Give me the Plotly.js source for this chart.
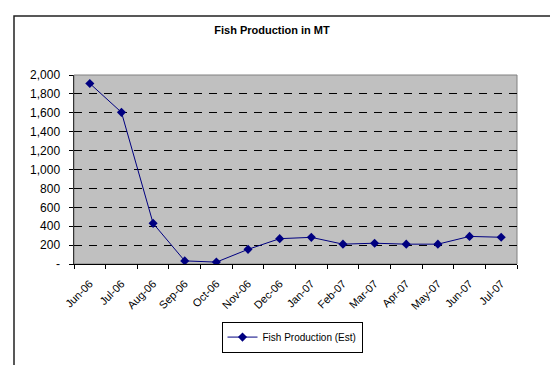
<!DOCTYPE html>
<html>
<head>
<meta charset="utf-8">
<script src="https://cdn.plot.ly/plotly-3.0.1.min.js"></script>
<style>
html,body{margin:0;padding:0;background:#fff;}
#chart{width:550px;height:365px;}
</style>
</head>
<body>
<div id="chart"></div>
<script>
const months = ["Jun-06","Jul-06","Aug-06","Sep-06","Oct-06","Nov-06","Dec-06","Jan-07","Feb-07","Mar-07","Apr-07","May-07","Jun-07","Jul-07"];
const production = [1910, 1605, 430, 33, 20, 155, 268, 282, 210, 220, 210, 210, 292, 283];
const yTickVals = [0,200,400,600,800,1000,1200,1400,1600,1800,2000];
const yTickText = ["-","200","400","600","800","1,000","1,200","1,400","1,600","1,800","2,000"];

const trace = {
  x: months,
  y: production,
  type: 'scatter',
  mode: 'lines+markers',
  name: 'Fish Production (Est)',
  line: {color: '#000080', width: 1},
  marker: {symbol: 'diamond', size: 7, color: '#000080'}
};

const L = 74, R = 33, T = 74.5, B = 87;
const pw = 550 - L - R, ph = 365 - T - B;
const px = v => (v - L) / pw;
const py = v => (365 - B - v) / ph;

const layout = {
  width: 550, height: 365,
  margin: {l: L, r: R, t: T, b: B, pad: 0},
  paper_bgcolor: '#ffffff',
  plot_bgcolor: '#c0c0c0',
  font: {family: 'Liberation Sans, Arial, sans-serif', color: '#000'},
  title: {text: '<b>Fish Production in MT</b>', font: {size: 11, color: '#000'}, x: px(272), xanchor: 'center', xref: 'paper', y: 1 - 30/365, yanchor: 'middle'},
  showlegend: true,
  legend: {
    x: px(292), xanchor: 'center', y: py(340), yanchor: 'top',
    orientation: 'h', bgcolor: '#fff', bordercolor: '#000', borderwidth: 1,
    font: {size: 10, color: '#000'}
  },
  xaxis: {
    type: 'category',
    tickangle: -45,
    tickson: 'boundaries',
    ticks: 'outside', ticklen: 4, tickcolor: '#000',
    ticklabelstandoff: 8,
    showline: true, linecolor: '#000', linewidth: 1,
    showgrid: false, zeroline: false,
    tickfont: {size: 11, color: '#000'},
    range: [-0.5, 13.5], fixedrange: true
  },
  yaxis: {
    range: [0, 2000],
    tickvals: yTickVals, ticktext: yTickText,
    ticks: 'outside', ticklen: 4, tickcolor: '#000',
    ticklabelstandoff: 6,
    showline: true, linecolor: '#333', linewidth: 1.5,
    showgrid: true, gridcolor: '#000', gridwidth: 1, griddash: '8px,7px',
    zeroline: false,
    tickfont: {size: 12, color: '#000'},
    fixedrange: true
  },
  shapes: [
    {type: 'rect', xref: 'paper', yref: 'paper', x0: 0, x1: 1, y0: 0, y1: 1, line: {color: '#808080', width: 1}, layer: 'below'},
    {type: 'rect', xref: 'paper', yref: 'paper', x0: px(14), x1: px(600), y0: py(11), y1: py(420), line: {color: '#222', width: 1.5}, fillcolor: 'rgba(0,0,0,0)'}
  ]
};

Plotly.newPlot('chart', [trace], layout, {displayModeBar: false, staticPlot: true});
</script>
</body>
</html>
